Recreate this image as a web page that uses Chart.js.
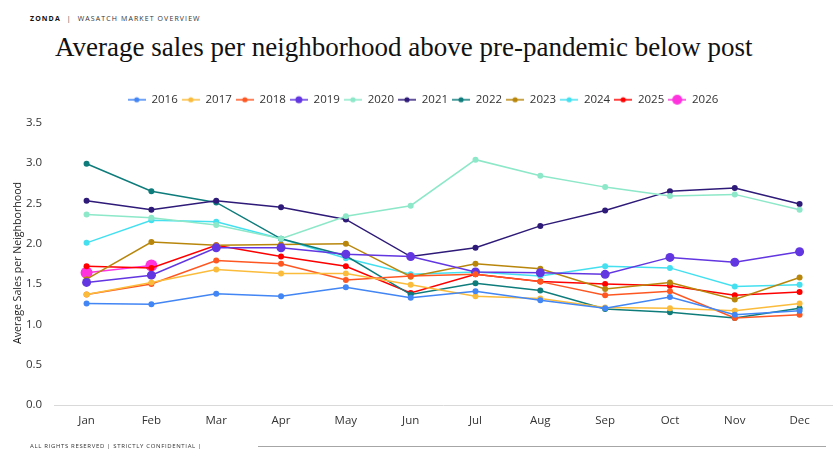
<!DOCTYPE html>
<html lang="en">
<head>
<meta charset="utf-8"/>
<title>Average sales per neighborhood</title>
<script src="https://cdn.jsdelivr.net/npm/chart.js"></script>
<style>
  body {
    margin: 0;
    background: #ffffff;
    width: 839px;
    height: 454px;
    overflow: hidden;
    position: relative;
    font-family: "Open Sans", "Liberation Sans", sans-serif;
  }
  .header {
    position: absolute;
    left: 30px;
    top: 14px;
    font-size: 7px;
    letter-spacing: 1.1px;
    color: #333;
  }
  .header b { color: #111; margin-right: 6px; }
  .header span { margin-right: 6px; }
  h1 {
    position: absolute;
    left: 55px;
    top: 32px;
    margin: 0;
    font-family: "Liberation Serif", "DejaVu Serif", serif;
    font-weight: normal;
    font-size: 27px;
    color: #111;
  }
  .ytitulo {
    position: absolute;
    left: 17px;
    top: 263px;
    transform: translate(-50%, -50%) rotate(-90deg);
    white-space: nowrap;
    font-size: 10.6px;
    color: #222;
  }
  .footer {
    position: absolute;
    left: 30px;
    top: 442px;
    font-size: 6px;
    letter-spacing: 0.65px;
    color: #333;
  }
  .footline {
    position: absolute;
    left: 258px;
    top: 446px;
    width: 568px;
    height: 1px;
    background: #a6a6a6;
  }
  #wrap {
    position: absolute;
    left: 0;
    top: 0;
    width: 839px;
    height: 454px;
  }
</style>
</head>
<body>
<div class="header"><b>ZONDA</b><span>|</span>WASATCH MARKET OVERVIEW</div>
<h1>Average sales per neighborhood above pre-pandemic below post</h1>
<div id="wrap"><canvas id="grafico"></canvas></div>
<div class="ytitulo">Average Sales per Neighborhood</div>
<div class="footer">ALL RIGHTS RESERVED | STRICTLY CONFIDENTIAL |</div>
<div class="footline"></div>

<script>
  const meses = ['Jan','Feb','Mar','Apr','May','Jun','Jul','Aug','Sep','Oct','Nov','Dec'];

  const y2016 = [1.26,1.25,1.38,1.35,1.46,1.33,1.41,1.30,1.20,1.34,1.12,1.17];
  const y2017 = [1.37,1.52,1.68,1.63,1.63,1.49,1.35,1.32,1.21,1.20,1.17,1.26];
  const y2018 = [1.37,1.50,1.79,1.75,1.55,1.60,1.62,1.53,1.36,1.41,1.08,1.12];
  const y2019 = [1.52,1.61,1.95,1.95,1.87,1.84,1.65,1.64,1.62,1.83,1.77,1.90];
  const y2020 = [2.36,2.32,2.23,2.06,2.34,2.47,3.04,2.84,2.70,2.59,2.61,2.42];
  const y2021 = [2.53,2.42,2.53,2.45,2.30,1.84,1.95,2.22,2.41,2.65,2.69,2.49];
  const y2022 = [2.99,2.65,2.51,2.06,1.85,1.37,1.51,1.42,1.19,1.15,1.08,1.20];
  const y2023 = [1.56,2.02,1.98,1.99,2.00,1.59,1.75,1.69,1.44,1.52,1.31,1.58];
  const y2024 = [2.01,2.29,2.27,2.06,1.82,1.62,1.65,1.60,1.72,1.70,1.47,1.49];
  const y2025 = [1.72,1.70,1.98,1.84,1.72,1.39,1.62,1.53,1.50,1.48,1.36,1.40];
  const y2026 = [1.64,1.73];

  const anos = ['2016','2017','2018','2019','2020','2021','2022','2023','2024','2025','2026'];
  const valores = [y2016,y2017,y2018,y2019,y2020,y2021,y2022,y2023,y2024,y2025,y2026];
  const cores = ['#4285f4','#fbbc3c','#ff5722','#6236e0','#8ce8c8','#2e1a78',
                 '#0f7c7c','#b8860b','#44e0f0','#ff0000','#ff33dd'];
  const raios = [3,3,3,4.5,3,3,3,3,3,3,6];

  // little line+dot marker for each legend entry
  function marcador(cor, r) {
    const c = document.createElement('canvas');
    c.width = 18; c.height = 12;
    const g = c.getContext('2d');
    g.strokeStyle = cor; g.lineWidth = 1.5;
    g.beginPath(); g.moveTo(0, 6); g.lineTo(18, 6); g.stroke();
    g.fillStyle = cor;
    g.beginPath(); g.arc(9, 6, Math.min(r, 5), 0, Math.PI * 2); g.fill();
    return c;
  }
  const marcadores = cores.map((c, i) => marcador(c, raios[i] === 3 ? 2.6 : raios[i] - 1));

  const datasets = anos.map((ano, i) => ({
    label: ano,
    data: valores[i],
    borderColor: cores[i],
    backgroundColor: cores[i],
    borderWidth: 1.5,
    pointRadius: raios[i],
    pointHoverRadius: raios[i],
    pointBorderWidth: 0,
    tension: 0
  }));

  // extra room between legend and plot
  const espacoLegenda = {
    id: 'espacoLegenda',
    beforeInit(chart) {
      const fitOriginal = chart.legend.fit;
      chart.legend.fit = function () {
        fitOriginal.bind(chart.legend)();
        this.height += 7;
      };
    }
  };

  new Chart(document.getElementById('grafico'), {
    type: 'line',
    data: { labels: meses, datasets },
    plugins: [espacoLegenda],
    options: {
      responsive: true,
      maintainAspectRatio: false,
      animation: false,
      layout: { padding: { top: 90, left: 14, right: 7, bottom: 17 } },
      plugins: {
        tooltip: { enabled: false },
        legend: {
          position: 'top',
          labels: {
            usePointStyle: true,
            pointStyleWidth: 18,
            padding: 4,
            color: '#333',
            font: { family: 'Open Sans', size: 11.5 },
            generateLabels: chart => {
              const itens = Chart.defaults.plugins.legend.labels.generateLabels(chart);
              itens.forEach((it, i) => { it.pointStyle = marcadores[i]; });
              return itens;
            }
          }
        }
      },
      scales: {
        x: {
          offset: true,
          grid: { display: false, drawTicks: false },
          border: { display: true, color: '#d9d9d9', width: 1 },
          ticks: { color: '#333', font: { family: 'Open Sans', size: 11.5 }, padding: 9 }
        },
        y: {
          min: 0,
          max: 3.5,
          grid: { display: false, drawTicks: false },
          border: { display: false },
          ticks: {
            stepSize: 0.5,
            padding: 12,
            color: '#333',
            font: { family: 'Open Sans', size: 11.5 },
            callback: v => v.toFixed(1)
          }
        }
      }
    }
  });
</script>
</body>
</html>
